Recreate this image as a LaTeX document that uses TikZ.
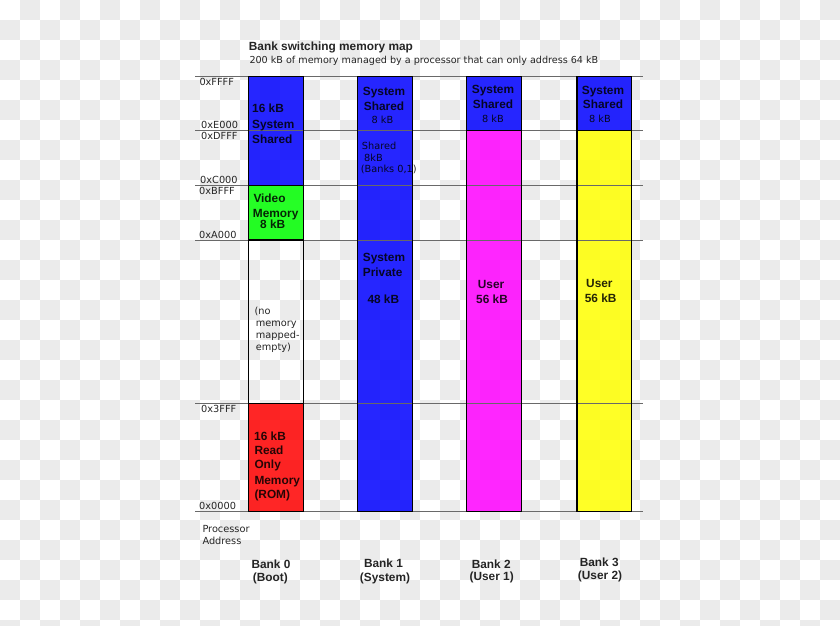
\documentclass[tikz,border=0pt]{standalone}
\usepackage{fontspec}
\setmainfont{Liberation Sans}
\newfontfamily\smallfont{DejaVu Sans}
\definecolor{chk}{RGB}{235,235,235}
\definecolor{hline}{RGB}{105,105,105}
\definecolor{memblue}{RGB}{0,0,255}
\definecolor{memgreen}{RGB}{0,255,0}
\definecolor{memred}{RGB}{255,0,0}
\definecolor{memmag}{RGB}{255,0,255}
\definecolor{memyel}{RGB}{255,255,0}
\tikzset{
  lbl/.style={anchor=base west, inner sep=0pt, font=\fontsize{11.9}{14}\selectfont\bfseries, text opacity=0.85},
  lblc/.style={lbl, anchor=base},
  sm/.style={anchor=base west, inner sep=0pt, font=\smallfont\fontsize{9.8}{12}\selectfont, text opacity=0.85},
  smc/.style={sm, anchor=base},
  memfill/.style={fill=#1, fill opacity=0.85},
  memedge/.style={draw=black, line width=1.2bp},
  addrline/.style={draw=hline, line width=0.9bp}
}
\begin{document}
\begin{tikzpicture}[x=1bp,y=-1bp]
\useasboundingbox (0,0) rectangle (840,626);
% checkerboard background
\begin{scope}
  \clip (0,0) rectangle (840,626);
  \fill[white] (0,0) rectangle (840,626);
  \foreach \j in {0,...,31}{
    \pgfmathtruncatemacro\off{mod(\j+1,2)}
    \foreach \i in {0,2,...,40}{
      \fill[chk] ({(\i+\off)*20},{\j*20}) rectangle ++(20,20);
    }
  }
\end{scope}
% bank 0
\fill[memfill=memblue]  (248.5,76.7) rectangle (303.3,185.7);
\fill[memfill=memgreen] (248.5,185.7) rectangle (303.3,240);
\fill[memfill=memred]   (248.5,403.3) rectangle (303.3,511.7);
% bank 1
\fill[memfill=memblue]  (357.3,76.7) rectangle (412.3,511.7);
% bank 2
\fill[memfill=memblue]  (466.7,76.7) rectangle (521.3,130.5);
\fill[memfill=memmag]   (466.7,130.5) rectangle (521.3,511.7);
% bank 3
\fill[memfill=memblue]  (577,76.7) rectangle (631.3,130.5);
\fill[memfill=memyel]   (577,130.5) rectangle (631.3,511.7);
% address lines
\coordinate (l0a) at (195,76.7);   \coordinate (l0b) at (643,76.7);
\coordinate (l1a) at (195,130.5);  \coordinate (l1b) at (643,130.5);
\coordinate (l2a) at (195,185.7);  \coordinate (l2b) at (643,185.7);
\coordinate (l3a) at (195,240);    \coordinate (l3b) at (643,240);
\coordinate (l4a) at (195,403.3);  \coordinate (l4b) at (643,403.3);
\coordinate (l5a) at (195,511.7);  \coordinate (l5b) at (643,511.7);
\foreach \k in {0,...,5}{ \draw[addrline] (l\k a) -- (l\k b); }
% block borders
\draw[memedge] (248.5,76.7) rectangle (303.3,185.7);
\draw[memedge] (248.5,185.7) rectangle (303.3,240);
\draw[memedge] (248.5,240) rectangle (303.3,403.3);
\draw[memedge] (248.5,403.3) rectangle (303.3,511.7);
\draw[memedge] (357.3,76.7) rectangle (412.3,511.7);
\draw[memedge] (466.7,76.7) rectangle (521.3,130.5);
\draw[memedge] (466.7,130.5) rectangle (521.3,511.7);
\draw[memedge] (577,76.7) rectangle (631.3,130.5);
\draw[memedge] (577,130.5) rectangle (631.3,511.7);
% titles
\node[lbl] (title) at (248.7,50.5) {Bank switching memory map};
\node[sm, font=\smallfont\fontsize{9.65}{12}\selectfont] (subtitle) at (249.3,63.3) {200 kB of memory managed by a processor that can only address 64 kB};
% address labels
\node[sm] (aFFFF) at (199.3,85.7) {0xFFFF};
\node[sm] (aE000) at (201,128.8) {0xE000};
\node[sm] (aDFFF) at (201,139.6) {0xDFFF};
\node[sm] (aC000) at (200,183.3) {0xC000};
\node[sm] (aBFFF) at (199,194.3) {0xBFFF};
\node[sm] (aA000) at (199,238.3) {0xA000};
\node[sm] (a3FFF) at (201,412.5) {0x3FFF};
\node[sm] (a0000) at (199,509.3) {0x0000};
\node[sm] (proc1) at (202.3,532.7) {Processor};
\node[sm] (proc2) at (202.3,544.3) {Address};
% bank 0 texts
\node[lbl] (b0s1) at (252,112.3) {16 kB};
\node[lbl] (b0s2) at (252,128.3) {System};
\node[lbl] (b0s3) at (252,143.3) {Shared};
\node[lbl] (b0v1) at (253.3,202.7) {Video};
\node[lbl] (b0v2) at (252.7,217.7) {Memory};
\node[lbl] (b0v3) at (260,229) {8 kB};
\node[sm] (b0e1) at (254.3,314.5) {(no};
\node[sm] (b0e2) at (255.7,326.7) {memory};
\node[sm] (b0e3) at (255.7,338.3) {mapped-};
\node[sm] (b0e4) at (255.7,350) {empty)};
\node[lbl] (b0r1) at (254,440) {16 kB};
\node[lbl] (b0r2) at (254.3,454) {Read};
\node[lbl] (b0r3) at (254.3,468.3) {Only};
\node[lbl] (b0r4) at (254.3,484.3) {Memory};
\node[lbl] (b0r5) at (254.3,498) {(ROM)};
% bank 1 texts
\node[lblc] (b1s1) at (384,96) {System};
\node[lblc] (b1s2) at (384,111) {Shared};
\node[smc] (b1s3) at (382.5,123.7) {8 kB};
\node[sm] (b1h1) at (361.7,150) {Shared};
\node[sm] (b1h2) at (364,161.7) {8kB};
\node[sm] (b1h3) at (360.7,173) {(Banks 0,1)};
\node[lbl] (b1p1) at (362.7,261.7) {System};
\node[lbl] (b1p2) at (362.7,276) {Private};
\node[lbl] (b1p3) at (367.3,303) {48 kB};
% bank 2 texts
\node[lblc] (b2s1) at (493,94) {System};
\node[lblc] (b2s2) at (493,108.7) {Shared};
\node[smc] (b2s3) at (493,122.3) {8 kB};
\node[lbl] (b2u1) at (477.7,288.3) {User};
\node[lbl] (b2u2) at (476,303.3) {56 kB};
% bank 3 texts
\node[lblc] (b3s1) at (603,94.3) {System};
\node[lblc] (b3s2) at (603,109) {Shared};
\node[smc] (b3s3) at (600,122.3) {8 kB};
\node[lbl] (b3u1) at (586,287.7) {User};
\node[lbl] (b3u2) at (584.7,302.7) {56 kB};
% bank captions
\node[lblc] (c0a) at (271,568.3) {Bank 0};
\node[lblc] (c0b) at (270.3,581.5) {(Boot)};
\node[lblc] (c1a) at (383.5,567.7) {Bank 1};
\node[lblc] (c1b) at (385,581) {(System)};
\node[lblc] (c2a) at (491.2,568) {Bank 2};
\node[lblc] (c2b) at (491.7,580.5) {(User 1)};
\node[lblc] (c3a) at (599.2,566.5) {Bank 3};
\node[lblc] (c3b) at (600,579.5) {(User 2)};
\end{tikzpicture}
\end{document}
